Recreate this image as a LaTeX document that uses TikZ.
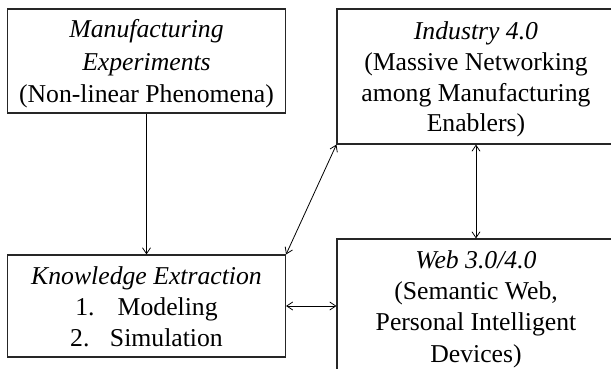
\documentclass[tikz,border=0pt]{standalone}
\usepackage{fontspec}
\setmainfont{Liberation Serif}
\usetikzlibrary{arrows.meta}

\tikzset{
  box/.style={draw=black!85, line width=1.1pt, rectangle, inner sep=0pt,
    minimum width=278pt},
  % base anchor of a multi-line node sits on its last line
  txt/.style={align=center, inner sep=0pt, anchor=base},
  link/.style={line width=0.8pt, black,
    arrows={-Straight Barb[length=6pt,width=8pt]}},
  biglink/.style={line width=0.8pt, black,
    arrows={Straight Barb[length=6pt,width=8pt]-Straight Barb[length=6pt,width=8pt]}},
}

\begin{document}
\begin{tikzpicture}[x=1pt, y=-1pt]
\useasboundingbox (0,0) rectangle (611,369);
\clip (0,0) rectangle (611,369);

% boxes
\node[box, minimum height=104pt] (manu) at (146.5,61) {};
\node[box, minimum height=102pt] (know) at (146.5,306) {};
\node[box, minimum height=135pt] (ind)  at (476,76.5) {};
\node[box, minimum height=144pt] (web)  at (476,311) {};

% box texts
\node[txt, font={\fontsize{25.7}{32.3}\selectfont}] (manu-t) at (146.5,102.3)
  {\textit{Manufacturing}\\\textit{Experiments}\\(Non-linear Phenomena)};
\node[txt, font={\fontsize{25.7}{31}\selectfont}] (know-t) at (146.5,346)
  {\textit{Knowledge Extraction}\\1.\hspace{0.9em}Modeling\\2.\hspace{0.8em}Simulation};
\node[txt, font={\fontsize{25.7}{30.6}\selectfont}] (ind-t) at (476,131.7)
  {\textit{Industry 4.0}\\(Massive Networking\\among Manufacturing\\Enablers)};
\node[txt, font={\fontsize{25.7}{31.3}\selectfont}] (web-t) at (476,362)
  {\textit{Web 3.0/4.0}\\(Semantic Web,\\Personal Intelligent\\Devices)};

% connectors
\draw[link] (manu.south) -- (know.north);
\draw[biglink] (know.north east) -- (ind.south west);
\draw[biglink] (ind.south) -- (web.north);
\draw[biglink] (know.east) -- (know.east -| web.west);
\end{tikzpicture}
\end{document}
